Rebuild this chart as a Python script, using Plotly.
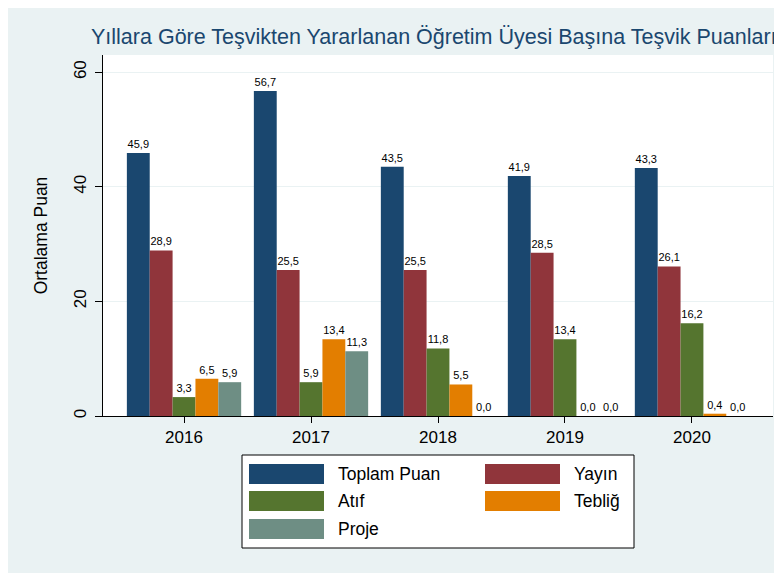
import plotly.graph_objects as go

# veriler
yillar = ["2016", "2017", "2018", "2019", "2020"]
seriler = ["Toplam Puan", "Yayın", "Atıf", "Tebliğ", "Proje"]
toplam_puan = [45.9, 56.7, 43.5, 41.9, 43.3]
yayin = [28.9, 25.5, 25.5, 28.5, 26.1]
atif = [3.3, 5.9, 11.8, 13.4, 16.2]
teblig = [6.5, 13.4, 5.5, 0.0, 0.4]
proje = [5.9, 11.3, 0.0, 0.0, 0.0]
renkler = ["#1a476f", "#90353b", "#55752f", "#e37e00", "#6e8e84"]
y_ticks = [0, 20, 40, 60]

degerler = [toplam_puan, yayin, atif, teblig, proje]

# sayfa 8px kenar boslugu ile basliyor; koordinatlar ona gore
OFS = 8
W, H = 782, 573
L, R, T, B = 103 - OFS, 773 - OFS, 55 - OFS, 416 - OFS  # plot alani (px)


def px_x(p):
    return (p - OFS - L) / (R - L)


def px_y(p):
    return (B - (p - OFS)) / (B - T)


fig = go.Figure()
for ad, vals, renk in zip(seriler, degerler, renkler):
    fig.add_trace(go.Bar(
        x=list(range(len(yillar))), y=vals, name=ad,
        marker=dict(color=renk, line=dict(width=0)),
        texttemplate="%{y:.1f}", textposition="outside",
        textfont=dict(size=11, color="black"),
        showlegend=False, cliponaxis=False))

fig.update_layout(
    width=W, height=H,
    margin=dict(l=L, r=W - R, t=T, b=H - B, autoexpand=False),
    paper_bgcolor="#eaf2f3", plot_bgcolor="white",
    separators=",.",
    barmode="group", bargap=0.1, bargroupgap=0,
    font=dict(family="Liberation Sans, Arial, sans-serif", color="black"),
    title=dict(text="Yıllara Göre Teşvikten Yararlanan Öğretim Üyesi Başına Teşvik Puanları",
               x=(91 - OFS) / W, xanchor="left", y=1 - (36 - OFS) / H, yanchor="middle",
               font=dict(size=21.5, color="#1a476f")),
)

fig.update_xaxes(
    tickvals=list(range(len(yillar))), ticktext=yillar,
    range=[-0.638, 4.638], showline=True, linecolor="black", linewidth=1,
    ticks="outside", ticklen=6, tickcolor="black",
    tickfont=dict(size=17), showgrid=False, zeroline=False)
fig.update_yaxes(
    range=[0, 63], tickvals=y_ticks, tickangle=-90,
    showline=True, linecolor="black", linewidth=1,
    ticks="outside", ticklen=7, tickcolor="black", ticklabelstandoff=2,
    tickfont=dict(size=17), gridcolor="#eaf2f3", zeroline=False,
    title=dict(text="Ortalama Puan", font=dict(size=17.5), standoff=19))

# lejant
fig.add_shape(type="rect", xref="paper", yref="paper",
              x0=px_x(242), x1=px_x(634), y0=px_y(455), y1=px_y(548),
              fillcolor="white", line=dict(color="black", width=1))
konumlar = [(249, 474), (485, 474), (249, 501), (485, 501), (249, 529)]
for ad, renk, (sx, sy) in zip(seriler, renkler, konumlar):
    fig.add_shape(type="rect", xref="paper", yref="paper",
                  x0=px_x(sx), x1=px_x(sx + 75), y0=px_y(sy - 10), y1=px_y(sy + 10),
                  fillcolor=renk, line=dict(width=0))
    fig.add_annotation(xref="paper", yref="paper", x=px_x(sx + 87), y=px_y(sy),
                       text=ad, showarrow=False, xanchor="left", yanchor="middle",
                       font=dict(size=17.5, color="black"))

fig.write_html("out.html")
